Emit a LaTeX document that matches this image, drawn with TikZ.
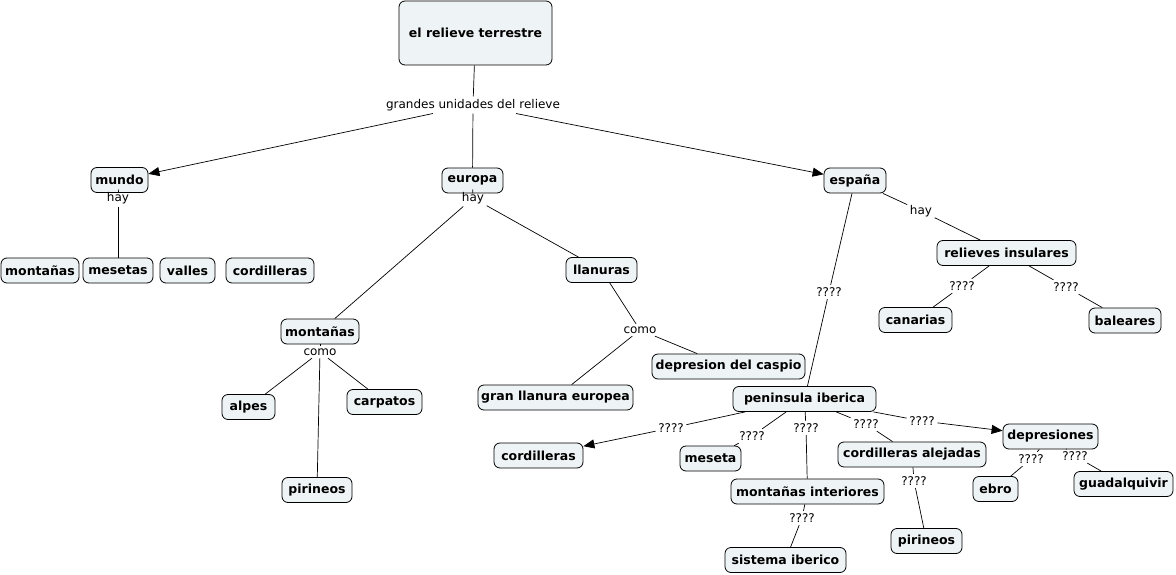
\documentclass[tikz,border=0pt]{standalone}
\usepackage{fontspec}
\setmainfont{DejaVu Sans}
\usetikzlibrary{arrows.meta}
\definecolor{boxfill}{HTML}{EEF3F5}
\tikzset{
 concept/.style={draw, rounded corners=6pt, fill=boxfill, font=\fontsize{12.5}{14}\selectfont\bfseries, minimum height=25pt, inner sep=0pt, line width=0.8pt},
 lbl/.style={font=\fontsize{12}{14}\selectfont, inner sep=2.5pt},
 conn/.style={line width=0.7pt},
 arr/.style={conn, -{Triangle[length=11pt,width=9pt]}},
}
\begin{document}
\begin{tikzpicture}[x=1pt,y=-1pt]
\useasboundingbox[fill=white] (0,0) rectangle (1176,575);
% concepts
\node[concept, minimum width=153pt, minimum height=64pt] (root) at (475.5,33) {el relieve terrestre};
\node[concept, minimum width=57pt] (mundo) at (119.5,180) {mundo};
\node[concept, minimum width=61pt] (europa) at (472.5,180.5) {europa};
\node[concept, minimum width=62pt] (espana) at (855,180.5) {españa};
\node[concept, minimum width=78pt] (mont1) at (40,270.5) {montañas};
\node[concept, minimum width=70pt] (mesetas) at (118,270.5) {mesetas};
\node[concept, minimum width=55pt] (valles) at (187.5,270.5) {valles};
\node[concept, minimum width=88pt] (cord1) at (270,270.5) {cordilleras};
\node[concept, minimum width=71pt] (llanuras) at (601.5,270) {llanuras};
\node[concept, minimum width=78pt] (mont2) at (320,331.5) {montañas};
\node[concept, minimum width=53pt] (alpes) at (248.5,407) {alpes};
\node[concept, minimum width=75pt] (carpatos) at (384.5,402) {carpatos};
\node[concept, minimum width=70pt] (pir1) at (317,490) {pirineos};
\node[concept, minimum width=153pt] (caspio) at (728.5,366.5) {depresion del caspio};
\node[concept, minimum width=155pt] (granll) at (555.5,397.5) {gran llanura europea};
\node[concept, minimum width=139pt] (relins) at (1006.5,253) {relieves insulares};
\node[concept, minimum width=73pt] (canarias) at (915.5,320) {canarias};
\node[concept, minimum width=72pt] (baleares) at (1125,320.5) {baleares};
\node[concept, minimum width=143pt] (penin) at (804.5,399) {peninsula iberica};
\node[concept, minimum width=89pt] (cord2) at (538.5,455.5) {cordilleras};
\node[concept, minimum width=61pt] (meseta) at (710.5,458.5) {meseta};
\node[concept, minimum width=153pt] (montint) at (807.5,491.5) {montañas interiores};
\node[concept, minimum width=121pt] (sisib) at (785.5,560) {sistema iberico};
\node[concept, minimum width=148pt] (cordal) at (912,454.5) {cordilleras alejadas};
\node[concept, minimum width=71pt] (pir2) at (926.5,541) {pirineos};
\node[concept, minimum width=95pt] (depr) at (1050.5,436.5) {depresiones};
\node[concept, minimum width=45pt] (ebro) at (995.5,489) {ebro};
\node[concept, minimum width=99pt] (guad) at (1123.5,484) {guadalquivir};
% labels
\node[lbl] (l0) at (473,105) {grandes unidades del relieve};
\node[lbl] (lmh) at (118,198) {hay};
\node[lbl] (leh) at (473,198) {hay};
\node[lbl] (lmc) at (320,352) {como};
\node[lbl] (llc) at (640,330) {como};
\node[lbl] (lsh) at (921,211) {hay};
\node[lbl] (lq1) at (962,286) {????};
\node[lbl] (lq2) at (1066,287) {????};
\node[lbl] (lq3) at (829,292) {????};
\node[lbl] (lq4) at (671,428) {????};
\node[lbl] (lq5) at (752,436) {????};
\node[lbl] (lq6) at (806,428) {????};
\node[lbl] (lq7) at (866,424) {????};
\node[lbl] (lq8) at (922,421) {????};
\node[lbl] (lq9) at (802,518) {????};
\node[lbl] (lq10) at (914,481) {????};
\node[lbl] (lq11) at (1031,459) {????};
\node[lbl] (lq12) at (1075,456) {????};
% connectors
\draw[conn] (root) -- (l0);
\draw[arr] (l0) -- (mundo);
\draw[conn] (l0) -- (europa);
\draw[arr] (l0) -- (espana);
\draw[conn] (mundo) -- (lmh);
\draw[conn] (lmh) -- (mesetas);
\draw[conn] (europa) -- (leh);
\draw[conn] (leh) -- (mont2);
\draw[conn] (leh) -- (llanuras);
\draw[conn] (mont2) -- (lmc);
\draw[conn] (lmc) -- (alpes);
\draw[conn] (lmc) -- (carpatos);
\draw[conn] (lmc) -- (pir1);
\draw[conn] (llanuras) -- (llc);
\draw[conn] (llc) -- (granll);
\draw[conn] (llc) -- (caspio);
\draw[conn] (espana) -- (lsh);
\draw[conn] (lsh) -- (relins);
\draw[conn] (relins) -- (lq1);
\draw[conn] (lq1) -- (canarias);
\draw[conn] (relins) -- (lq2);
\draw[conn] (lq2) -- (baleares);
\draw[conn] (espana) -- (lq3);
\draw[conn] (lq3) -- (penin);
\draw[conn] (penin) -- (lq4);
\draw[arr] (lq4) -- (cord2);
\draw[conn] (penin) -- (lq5);
\draw[conn] (lq5) -- (meseta);
\draw[conn] (penin) -- (lq6);
\draw[conn] (lq6) -- (montint);
\draw[conn] (penin) -- (lq7);
\draw[conn] (lq7) -- (cordal);
\draw[conn] (penin) -- (lq8);
\draw[arr] (lq8) -- (depr);
\draw[conn] (montint) -- (lq9);
\draw[conn] (lq9) -- (sisib);
\draw[conn] (cordal) -- (lq10);
\draw[conn] (lq10) -- (pir2);
\draw[conn] (depr) -- (lq11);
\draw[conn] (lq11) -- (ebro);
\draw[conn] (depr) -- (lq12);
\draw[conn] (lq12) -- (guad);
\end{tikzpicture}
\end{document}
